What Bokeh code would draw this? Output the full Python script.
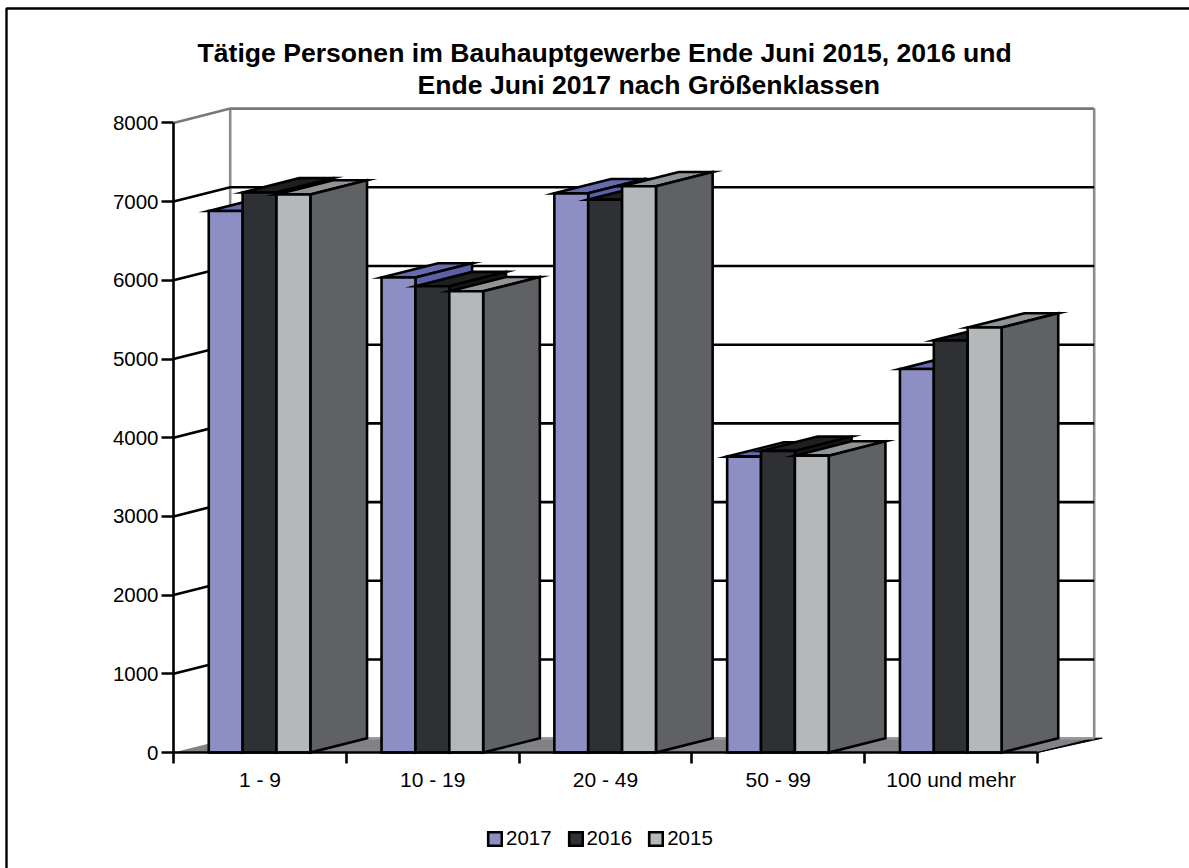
from bokeh.plotting import figure
from bokeh.embed import file_html
from bokeh.resources import INLINE
from bokeh.models import (Range1d, FixedTicker, LinearAxis, Legend, LegendItem,
                          Label, BoxAnnotation)

categories = ["1 - 9", "10 - 19", "20 - 49", "50 - 99", "100 und mehr"]
y_ticks = [0, 1000, 2000, 3000, 4000, 5000, 6000, 7000, 8000]
v2017 = [6880, 6035, 7105, 3760, 4873]
v2016 = [7116, 5925, 7025, 3832, 5237]
v2015 = [7090, 5860, 7195, 3772, 5400]
series = [
    ("2017", v2017, "#8c8ec4", "#666bb0", "#5c60a6"),
    ("2016", v2016, "#2e3033", "#1e1f20", "#161617"),
    ("2015", v2015, "#b4b8bb", "#909497", "#5f6164"),
]
title_1 = "Tätige Personen im Bauhauptgewerbe Ende Juni 2015, 2016 und"
title_2 = "Ende Juni 2017 nach Größenklassen"

# 3D projection in axis units
DX, DY = 0.328, 182.0
BAR_W, BAR_GAP = 0.196, 0.204
FONT = "Liberation Sans"
N = len(categories)
TOP = y_ticks[-1]
LW = 2.6

W, H = 1189, 868
PX_X, PX_Y = 172.8, 0.0787   # pixels per axis unit
X0, Y0 = 173, H - 752        # canvas position of the origin, from left and bottom
x_start = -X0 / PX_X
y_start = -Y0 / PX_Y

p = figure(width=W, height=H, output_backend="svg", toolbar_location=None,
           x_range=Range1d(x_start, x_start + W / PX_X),
           y_range=Range1d(y_start, y_start + H / PX_Y),
           x_axis_type=None, y_axis_type=None,
           min_border=0, background_fill_color="white", border_fill_color="white",
           outline_line_color=None)
p.grid.visible = False

# floor
p.patch([0, DX, N + DX, N], [0, DY, DY, 0], fill_color="#808285", line_color=None)
p.patch([N, N + DX, N + DX + 0.046], [0, DY, DY], fill_color="black", line_color="black", line_width=1)

# walls
WALL = "#8c8c94"
p.line([DX, DX], [DY, TOP + DY], line_color=WALL, line_width=LW)
p.line([N + DX, N + DX], [DY, TOP + DY], line_color=WALL, line_width=LW)
p.line([DX, N + DX], [DY, DY], line_color="#9a9a9e", line_width=LW)

# grid on the two walls
mid = [t for t in y_ticks if 0 < t < TOP]
p.multi_line([[0, DX, N + DX] for t in mid], [[t, t + DY, t + DY] for t in mid],
             line_color="black", line_width=LW, line_join="miter")
p.line([0, DX, N + DX], [TOP, TOP + DY, TOP + DY], line_color="#77777d", line_width=LW, line_join="miter")

# bars
items = []
for k, (name, vals, front, top, side) in enumerate(series):
    xl = [i + BAR_GAP + k * BAR_W for i in range(N)]
    xr = [x + BAR_W for x in xl]
    kw = dict(line_color="black", line_width=LW, line_join="miter")
    p.patches([[a, a + DX, b + DX, b] for a, b in zip(xl, xr)],
              [[v, v + DY, v + DY, v] for v in vals], fill_color=top, **kw)
    p.patches([[b, b + DX, b + DX, b] for b in xr],
              [[v, v + DY, DY, 0] for v in vals], fill_color=side, **kw)
    r = p.patches([[a, b, b, a] for a, b in zip(xl, xr)],
                  [[0, 0, v, v] for v in vals], fill_color=front, **kw)
    items.append(LegendItem(label=name, renderers=[r]))

# axes
yax = LinearAxis(fixed_location=0, ticker=FixedTicker(ticks=y_ticks), bounds=(0, TOP),
                 axis_line_color="black", axis_line_width=LW,
                 major_tick_line_color="black", major_tick_line_width=LW,
                 major_tick_in=0, major_tick_out=12, minor_tick_line_color=None,
                 major_label_text_font=FONT, major_label_text_font_size="20.5px",
                 major_label_text_color="black", major_label_standoff=3)
p.add_layout(yax, "left")

centers = [i + 0.5 for i in range(N)]
xax = LinearAxis(fixed_location=0, ticker=FixedTicker(ticks=centers, minor_ticks=list(range(N + 1))), bounds=(0, N),
                 axis_line_color="black", axis_line_width=LW,
                 major_tick_line_color=None, major_tick_in=0, major_tick_out=0,
                 minor_tick_line_color="black", minor_tick_line_width=LW,
                 minor_tick_in=0, minor_tick_out=11,
                 major_label_overrides=dict(zip(centers, categories)),
                 major_label_text_font=FONT, major_label_text_font_size="21px",
                 major_label_text_color="black", major_label_standoff=4)
p.add_layout(xax, "below")

# legend
legend = Legend(items=items, orientation="horizontal", location=(486, 18),
                padding=0, margin=0, spacing=15, glyph_width=17, glyph_height=17,
                label_standoff=3, label_text_font=FONT, label_text_font_size="20.5px",
                label_text_color="black", label_height=14,
                background_fill_alpha=0, border_line_color=None)
p.add_layout(legend, "center")

# title
for txt, tx, ty in ((title_1, 197, 37), (title_2, 417, 69)):
    p.add_layout(Label(x=tx, y=ty, x_units="canvas", y_units="canvas", text=txt, text_font=FONT,
                       text_font_size="26.6px", text_font_style="bold", text_color="black",
                       text_baseline="top"))

# page frame: only its left and top edges fall on the canvas
frame = BoxAnnotation(left=6, top=8, right=3000, bottom=3000,
                      left_units="canvas", right_units="canvas", top_units="canvas", bottom_units="canvas",
                      fill_alpha=0, line_color="black", line_alpha=1, line_width=2.4, level="overlay", editable=False)
p.add_layout(frame)

open("out.html", "w").write(file_html(p, INLINE))
